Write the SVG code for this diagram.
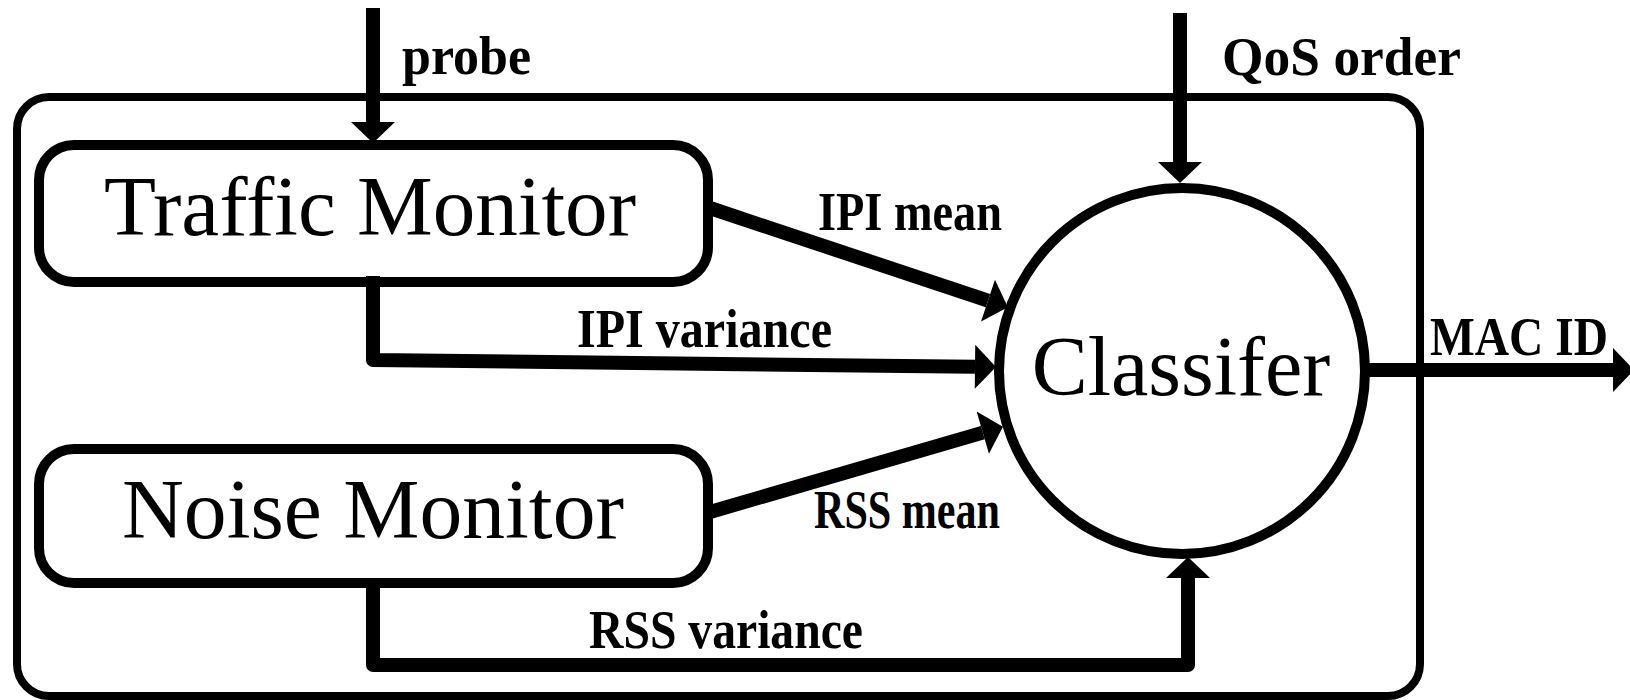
<svg xmlns="http://www.w3.org/2000/svg" width="1630" height="700" viewBox="0 0 1630 700">
  <style>
    .frame { fill: none; stroke: #000; stroke-width: 8; }
    .box { fill: #fff; stroke: #000; stroke-width: 10; }
    .big { font-family: "Liberation Serif", "Times New Roman", serif; font-size: 84px; fill: #000; }
    .lbl { font-family: "Liberation Serif", "Times New Roman", serif; font-size: 54px; font-weight: bold; fill: #000; }
    .wire { fill: none; stroke: #000; stroke-width: 14; stroke-linejoin: round; }
  </style>
  <defs>
    <!-- arrowhead anchored at its base so the shaft ends flush -->
    <marker id="head" markerUnits="userSpaceOnUse" markerWidth="22" markerHeight="46" refX="0" refY="23" orient="auto" overflow="visible">
      <path d="M0,1 L21,23 L0,45 Z" fill="#000"/>
    </marker>
  </defs>

  <!-- enclosing system frame -->
  <rect id="system" class="frame" x="17" y="97" width="1403" height="599" rx="32"/>

  <g id="traffic-monitor">
    <rect class="box" x="39" y="145" width="669" height="137" rx="35"/>
    <text class="big" x="370" y="235" text-anchor="middle" textLength="532" lengthAdjust="spacingAndGlyphs">Traffic Monitor</text>
  </g>

  <g id="noise-monitor">
    <rect class="box" x="39" y="449" width="669" height="134" rx="35"/>
    <text class="big" x="373" y="538" text-anchor="middle" textLength="502" lengthAdjust="spacingAndGlyphs">Noise Monitor</text>
  </g>

  <g id="classifier">
    <circle class="box" cx="1182" cy="371" r="183"/>
    <text class="big" x="1181" y="395" text-anchor="middle">Classifer</text>
  </g>

  <g id="connectors">
    <path class="wire" d="M373,8 L373,122" marker-end="url(#head)"/>
    <path class="wire" d="M1180,13 L1180,162" marker-end="url(#head)"/>
    <path class="wire" d="M710,208 L988,300.7" marker-end="url(#head)"/>
    <path class="wire" d="M373,276 L373,360 L975,366.8" marker-end="url(#head)"/>
    <path class="wire" d="M710,512 L982.8,432.6" marker-end="url(#head)"/>
    <path class="wire" d="M373,583 L373,665 L1188,665 L1188,578" marker-end="url(#head)"/>
    <path class="wire" d="M1366,370 L1613,370" marker-end="url(#head)"/>
  </g>

  <g id="labels">
    <text class="lbl" x="402" y="74" textLength="129" lengthAdjust="spacingAndGlyphs">probe</text>
    <text class="lbl" x="1222" y="75" textLength="239" lengthAdjust="spacingAndGlyphs">QoS order</text>
    <text class="lbl" x="818" y="230" textLength="184" lengthAdjust="spacingAndGlyphs">IPI mean</text>
    <text class="lbl" x="577" y="347" textLength="255" lengthAdjust="spacingAndGlyphs">IPI variance</text>
    <text class="lbl" x="814" y="528" textLength="186" lengthAdjust="spacingAndGlyphs">RSS mean</text>
    <text class="lbl" x="589" y="648" textLength="274" lengthAdjust="spacingAndGlyphs">RSS variance</text>
    <text class="lbl" x="1430" y="355" textLength="178" lengthAdjust="spacingAndGlyphs">MAC ID</text>
  </g>
</svg>
